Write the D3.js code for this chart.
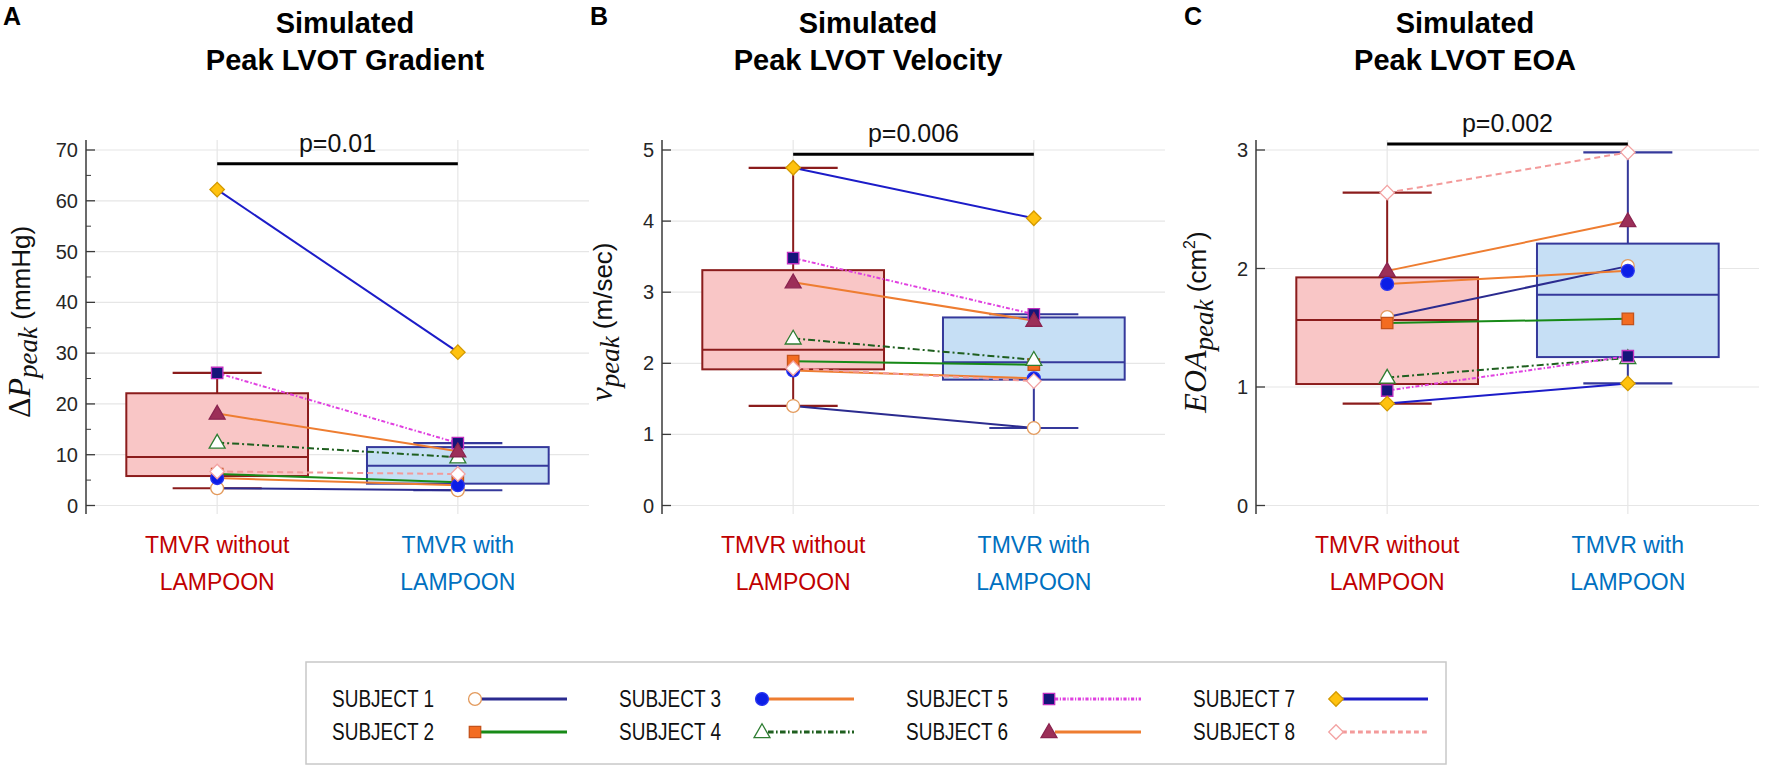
<!DOCTYPE html>
<html><head><meta charset="utf-8">
<script src="https://cdn.jsdelivr.net/npm/d3@7"></script>
<style>body{margin:0;background:#fff;} svg{display:block;}</style>
</head><body><svg id="chart" width="1772" height="767"></svg>
<script>
// ---------------- data ----------------
const groups = ["TMVR without LAMPOON", "TMVR with LAMPOON"];
const groupLines = [["TMVR without", "LAMPOON"], ["TMVR with", "LAMPOON"]];
const subjects = ["SUBJECT 1","SUBJECT 2","SUBJECT 3","SUBJECT 4","SUBJECT 5","SUBJECT 6","SUBJECT 7","SUBJECT 8"];

const gradientPre  = [3.4, 6.2, 5.4, 12.4, 26.1, 18.1, 62.2, 6.7];
const gradientPost = [3.0, 4.6, 4.0, 9.5, 12.3, 10.7, 30.2, 6.2];
const velocityPre  = [1.40, 2.03, 1.90, 2.35, 3.48, 3.14, 4.75, 1.93];
const velocityPost = [1.09, 1.98, 1.79, 2.05, 2.69, 2.60, 4.04, 1.75];
const eoaPre       = [1.59, 1.54, 1.87, 1.08, 0.97, 1.98, 0.86, 2.64];
const eoaPost      = [2.02, 1.575, 1.98, 1.245, 1.26, 2.40, 1.03, 2.98];

const gradientTicks = [0, 10, 20, 30, 40, 50, 60, 70];
const velocityTicks = [0, 1, 2, 3, 4, 5];
const eoaTicks = [0, 1, 2, 3];

const panelLetters = ["A", "B", "C"];
const titles = [["Simulated", "Peak LVOT Gradient"], ["Simulated", "Peak LVOT Velocity"], ["Simulated", "Peak LVOT EOA"]];
const pLabels = ["p=0.01", "p=0.006", "p=0.002"];
const pBarLevels = [67.3, 4.94, 3.05];

// ---------------- styles ----------------
const subjectStyle = [
  {shape: "circle",   fill: "#ffffff", stroke: "#e39a5c", line: "#2b2b8f", dash: null},
  {shape: "square",   fill: "#f36c21", stroke: "#c4521a", line: "#178a17", dash: null},
  {shape: "circle",   fill: "#0c1ee6", stroke: "#2a36f0", line: "#ee7d31", dash: null},
  {shape: "triangle", fill: "#ffffff", stroke: "#2e7d32", line: "#1f5f1f", dash: "7,3,2,3"},
  {shape: "square",   fill: "#15157a", stroke: "#c030c0", line: "#e040e0", dash: "4,2,1.5,2"},
  {shape: "triangle", fill: "#9c2f58", stroke: "#8a2450", line: "#ee7d31", dash: null},
  {shape: "diamond",  fill: "#ffc20e", stroke: "#d49a00", line: "#1c1cc8", dash: null},
  {shape: "diamond",  fill: "#ffffff", stroke: "#f3a3a3", line: "#f39a9a", dash: "6,4"}
];
const boxStyle = [
  {fill: "#f9c6c6", stroke: "#8b1c1c"},
  {fill: "#c6dff5", stroke: "#35399b"}
];
const labelColors = ["#c00000", "#0070c0"];

const panels = [
  {pre: gradientPre, post: gradientPost, ticks: gradientTicks, minor: 5, domain: [0, 70], left: 86,
   ylabel: [{t: "Δ", f: "serif"}, {t: "P", f: "it"}, {t: "peak", f: "sub"}, {t: " (mmHg)", f: "sans"}]},
  {pre: velocityPre, post: velocityPost, ticks: velocityTicks, minor: null, domain: [0, 5], left: 662,
   ylabel: [{t: "v", f: "it"}, {t: "peak", f: "sub"}, {t: " (m/sec)", f: "sans"}]},
  {pre: eoaPre, post: eoaPost, ticks: eoaTicks, minor: null, domain: [0, 3], left: 1256,
   ylabel: [{t: "EOA", f: "it"}, {t: "peak", f: "sub"}, {t: " (cm", f: "sans"}, {t: "2", f: "sup"}, {t: ")", f: "sans"}]}
];
const titleX = [345, 868, 1465];
const ylabelX = [24, 606, 1200];

// ---------------- layout ----------------
const svg = d3.select("#chart");
const yTop = 150, yZero = 505.5;   // pixel rows of top tick and zero
const axisTop = 140, axisBottom = 514;
const plotWidth = 503;
const sansFont = "Liberation Sans, Arial, sans-serif";
const serifFont = "Liberation Serif, Times New Roman, serif";

function prc(sorted, p) {
  const n = sorted.length, pos = n * p + 0.5;
  if (pos <= 1) return sorted[0];
  if (pos >= n) return sorted[n - 1];
  const lo = Math.floor(pos), fr = pos - lo;
  return sorted[lo - 1] + fr * (sorted[lo] - sorted[lo - 1]);
}
function boxStats(vals) {
  const s = vals.slice().sort(d3.ascending);
  const q1 = prc(s, 0.25), med = prc(s, 0.5), q3 = prc(s, 0.75), iqr = q3 - q1;
  const hi = d3.max(s.filter(v => v <= q3 + 1.5 * iqr));
  const lo = d3.min(s.filter(v => v >= q1 - 1.5 * iqr));
  return {q1, med, q3, hi, lo};
}
function symbolPath(shape) {
  if (shape === "circle") return d3.symbol(d3.symbolCircle, 130)();
  if (shape === "square") return d3.symbol(d3.symbolSquare, 130)();
  if (shape === "triangle") return d3.symbol(d3.symbolTriangle, 110)();
  return d3.symbol(d3.symbolSquare, 105)();
}
function drawMarker(g, st, x, y) {
  g.append("path").attr("d", symbolPath(st.shape))
    .attr("transform", `translate(${x},${y})` + (st.shape === "diamond" ? " rotate(45)" : "") + (st.shape === "triangle" ? " translate(0,1)" : ""))
    .attr("fill", st.fill).attr("stroke", st.stroke).attr("stroke-width", 1.3);
}

panels.forEach((P, pi) => {
  const g = svg.append("g");
  const x = d3.scalePoint().domain(groups).range([P.left, P.left + plotWidth]).padding(0.545);
  const step = x.step();
  const y = d3.scaleLinear().domain(P.domain).range([yZero, yTop]);
  const right = P.left + plotWidth;

  // grid
  g.selectAll(".hg").data(P.ticks).join("line")
    .attr("x1", P.left).attr("x2", right).attr("y1", d => y(d)).attr("y2", d => y(d))
    .attr("stroke", "#e6e6e6").attr("stroke-width", 1.2);
  g.selectAll(".vg").data(groups).join("line")
    .attr("x1", d => x(d)).attr("x2", d => x(d)).attr("y1", axisTop).attr("y2", axisBottom)
    .attr("stroke", "#e6e6e6").attr("stroke-width", 1.2);

  // axis
  g.append("line").attr("x1", P.left).attr("x2", P.left).attr("y1", axisTop).attr("y2", axisBottom)
    .attr("stroke", "#3a3a3a").attr("stroke-width", 1.5);
  g.selectAll(".tk").data(P.ticks).join("line")
    .attr("x1", P.left).attr("x2", P.left + 9).attr("y1", d => y(d)).attr("y2", d => y(d))
    .attr("stroke", "#3a3a3a").attr("stroke-width", 1.3);
  if (P.minor) {
    const minors = d3.range(P.domain[0] + P.minor, P.domain[1], P.minor * 2);
    g.selectAll(".mtk").data(minors).join("line")
      .attr("x1", P.left).attr("x2", P.left + 5).attr("y1", d => y(d)).attr("y2", d => y(d))
      .attr("stroke", "#3a3a3a").attr("stroke-width", 1);
  }
  g.selectAll(".tl").data(P.ticks).join("text")
    .attr("x", P.left - 8).attr("y", d => y(d)).attr("dy", "0.35em")
    .attr("text-anchor", "end").attr("font-family", sansFont)
    .attr("font-size", 20).attr("fill", "#262626").text(d => d);

  // boxes
  [P.pre, P.post].forEach((vals, gi) => {
    const s = boxStats(vals), cx = x(groups[gi]), bw = step * 0.755, cw = step * 0.37, bs = boxStyle[gi];
    g.append("line").attr("x1", cx).attr("x2", cx).attr("y1", y(s.q3)).attr("y2", y(s.hi)).attr("stroke", bs.stroke).attr("stroke-width", 2);
    g.append("line").attr("x1", cx).attr("x2", cx).attr("y1", y(s.q1)).attr("y2", y(s.lo)).attr("stroke", bs.stroke).attr("stroke-width", 2);
    g.append("line").attr("x1", cx - cw / 2).attr("x2", cx + cw / 2).attr("y1", y(s.hi)).attr("y2", y(s.hi)).attr("stroke", bs.stroke).attr("stroke-width", 2.2);
    g.append("line").attr("x1", cx - cw / 2).attr("x2", cx + cw / 2).attr("y1", y(s.lo)).attr("y2", y(s.lo)).attr("stroke", bs.stroke).attr("stroke-width", 2.2);
    g.append("rect").attr("x", cx - bw / 2).attr("width", bw).attr("y", y(s.q3)).attr("height", y(s.q1) - y(s.q3))
      .attr("fill", bs.fill).attr("stroke", bs.stroke).attr("stroke-width", 2);
    g.append("line").attr("x1", cx - bw / 2).attr("x2", cx + bw / 2).attr("y1", y(s.med)).attr("y2", y(s.med)).attr("stroke", bs.stroke).attr("stroke-width", 2);
  });

  // subject lines
  subjects.forEach((sub, si) => {
    const st = subjectStyle[si];
    g.append("line").attr("x1", x(groups[0])).attr("x2", x(groups[1]))
      .attr("y1", y(P.pre[si])).attr("y2", y(P.post[si]))
      .attr("stroke", st.line).attr("stroke-width", 2).attr("stroke-dasharray", st.dash);
  });
  subjects.forEach((sub, si) => {
    const st = subjectStyle[si];
    drawMarker(g, st, x(groups[0]), y(P.pre[si]));
    drawMarker(g, st, x(groups[1]), y(P.post[si]));
  });

  // p-value bar
  g.append("line").attr("x1", x(groups[0])).attr("x2", x(groups[1]))
    .attr("y1", y(pBarLevels[pi])).attr("y2", y(pBarLevels[pi])).attr("stroke", "#000").attr("stroke-width", 3);
  g.append("text").attr("x", (x(groups[0]) + x(groups[1])) / 2).attr("y", y(pBarLevels[pi]) - 12)
    .attr("text-anchor", "middle").attr("font-family", sansFont)
    .attr("font-size", 25).attr("fill", "#111").text(pLabels[pi]);

  // category labels
  groups.forEach((gname, gi) => {
    const t = g.append("text").attr("x", x(gname)).attr("text-anchor", "middle")
      .attr("font-family", sansFont).attr("font-size", 23).attr("fill", labelColors[gi]);
    groupLines[gi].forEach((ln, li) => t.append("tspan").attr("x", x(gname)).attr("y", 553 + li * 37).text(ln));
  });

  // title
  const tt = g.append("text").attr("text-anchor", "middle").attr("font-family", sansFont)
    .attr("font-weight", "bold").attr("font-size", 29).attr("fill", "#000");
  titles[pi].forEach((ln, li) => tt.append("tspan").attr("x", titleX[pi]).attr("y", 33 + li * 37).text(ln));

  // panel letter
  g.append("text").attr("x", P.left - 83 + (pi === 0 ? 0 : 11)).attr("y", 25)
    .attr("font-family", sansFont).attr("font-weight", "bold").attr("font-size", 25).text(panelLetters[pi]);

  // y label
  const yl = g.append("text").attr("transform", `translate(${ylabelX[pi]},322) rotate(-90)`)
    .attr("text-anchor", "middle").attr("fill", "#111").attr("dy", "0.35em");
  P.ylabel.forEach(part => {
    const ts = yl.append("tspan").text(part.t);
    if (part.f === "it") ts.attr("font-family", serifFont).attr("font-style", "italic").attr("font-size", 32);
    else if (part.f === "serif") ts.attr("font-family", serifFont).attr("font-size", 32);
    else if (part.f === "sub") ts.attr("font-family", serifFont).attr("font-style", "italic").attr("font-size", 27).attr("dy", 7);
    else if (part.f === "sup") ts.attr("font-family", sansFont).attr("font-size", 16).attr("dy", -11);
    else ts.attr("font-family", sansFont).attr("font-size", 26).attr("dy", part.t.startsWith(" ") ? -7 : (part.t === ")" ? 11 : 0));
  });
});

// ---------------- legend ----------------
const lg = svg.append("g");
lg.append("rect").attr("x", 306).attr("y", 662).attr("width", 1140).attr("height", 102)
  .attr("fill", "none").attr("stroke", "#c8c8c8").attr("stroke-width", 1.5);
subjects.forEach((sub, si) => {
  const col = Math.floor(si / 2), row = si % 2, st = subjectStyle[si];
  const tx = 332 + col * 287, ty = 699 + row * 33;
  lg.append("text").attr("x", tx).attr("y", ty).attr("dy", "0.35em")
    .attr("font-family", sansFont).attr("font-size", 23)
    .attr("textLength", 102).attr("lengthAdjust", "spacingAndGlyphs")
    .attr("fill", "#111").text(sub);
  const mx = tx + 143;
  lg.append("line").attr("x1", mx + 6).attr("x2", mx + 92).attr("y1", ty).attr("y2", ty)
    .attr("stroke", st.line).attr("stroke-width", 3).attr("stroke-dasharray", st.dash ? st.dash.split(",").map(v => v * 0.8).join(",") : null);
  drawMarker(lg, st, mx, ty);
});
</script>
</body></html>
